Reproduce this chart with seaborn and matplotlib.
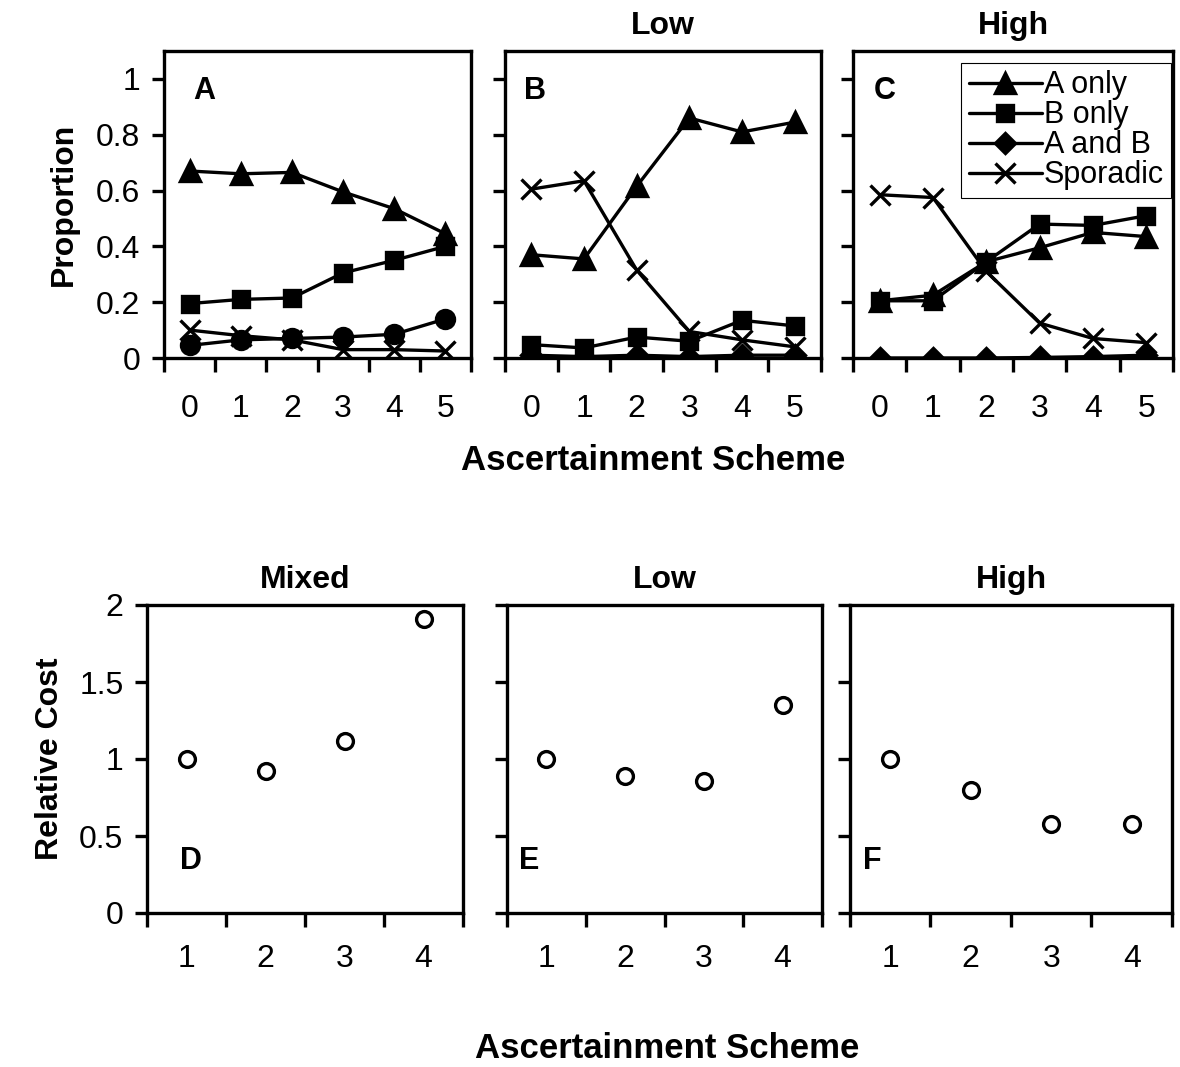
import numpy as np
import pandas as pd
import matplotlib
matplotlib.use('Agg')
import matplotlib.pyplot as plt
import seaborn as sns

sns.set_style('ticks')
plt.rcParams['font.family'] = ['Liberation Sans', 'DejaVu Sans']
plt.rcParams['text.color'] = 'black'
plt.rcParams['axes.labelcolor'] = 'black'
plt.rcParams['xtick.color'] = 'black'
plt.rcParams['ytick.color'] = 'black'

# data
schemes = [0, 1, 2, 3, 4, 5]
series_names = ['A only', 'B only', 'A and B', 'Sporadic']

# panel A (mixed)
a_only_A = [0.67, 0.66, 0.665, 0.595, 0.535, 0.445]
b_only_A = [0.195, 0.21, 0.215, 0.305, 0.35, 0.40]
ab_A = [0.045, 0.065, 0.07, 0.075, 0.085, 0.14]
spor_A = [0.10, 0.08, 0.065, 0.03, 0.03, 0.025]
# panel B (low)
a_only_B = [0.37, 0.355, 0.615, 0.86, 0.81, 0.845]
b_only_B = [0.048, 0.036, 0.075, 0.06, 0.135, 0.115]
ab_B = [0.01, 0.005, 0.01, 0.005, 0.01, 0.01]
spor_B = [0.605, 0.635, 0.315, 0.095, 0.065, 0.04]
# panel C (high)
a_only_C = [0.205, 0.225, 0.345, 0.395, 0.45, 0.435]
b_only_C = [0.205, 0.205, 0.345, 0.48, 0.475, 0.51]
ab_C = [0.0, 0.0, 0.0, 0.002, 0.005, 0.01]
spor_C = [0.585, 0.575, 0.31, 0.125, 0.07, 0.055]

cost_schemes = [1, 2, 3, 4]
cost_D = [1.0, 0.925, 1.12, 1.91]
cost_E = [1.0, 0.89, 0.86, 1.35]
cost_F = [1.0, 0.80, 0.58, 0.58]

top_titles = ['', 'Low', 'High']
bottom_titles = ['Mixed', 'Low', 'High']

W, H = 1180, 1067
fig = plt.figure(figsize=(W / 100, H / 100), dpi=100)


def box(l, r, t, b):
    return [l / W, 1 - b / H, (r - l) / W, (b - t) / H]


def style_ax(ax, ncat, first, xpad):
    for s in ax.spines.values():
        s.set_visible(True)
        s.set_linewidth(2.4)
        s.set_color('black')
    ax.set_xlim(first - 0.5, first + ncat - 0.5)
    ax.set_xticks(np.arange(first - 0.5, first + ncat, 1))
    ax.set_xticklabels([])
    ax.set_xticks(np.arange(first, first + ncat), minor=True)
    ax.set_xticklabels([str(v) for v in range(first, first + ncat)], minor=True, fontsize=23)
    ax.tick_params(axis='x', which='major', direction='out', length=10, width=2.4)
    ax.tick_params(axis='x', which='minor', length=0, pad=xpad)
    ax.tick_params(axis='y', direction='out', length=9, width=2.4, pad=8, labelsize=23)
    ax.set_xlabel('')
    ax.set_ylabel('')


# ---- top row ----
top_boxes = [(164, 471, 51, 358), (505, 821, 51, 358), (853, 1173, 51, 358)]
panel_data = [
    (a_only_A, b_only_A, ab_A, spor_A),
    (a_only_B, b_only_B, ab_B, spor_B),
    (a_only_C, b_only_C, ab_C, spor_C),
]
letters_top = ['A', 'B', 'C']
letter_x_top = [0.13, 0.095, 0.1]
top_axes = []
for i, (bx, vals) in enumerate(zip(top_boxes, panel_data)):
    ax = fig.add_axes(box(*bx))
    markers = ['^', 's', 'o' if i == 0 else 'D', 'x']
    msizes = [14, 12, 13 if i == 0 else 10, 14]
    for name, v, m, ms in zip(series_names, vals, markers, msizes):
        d = pd.DataFrame({'scheme': schemes, 'value': v})
        sns.lineplot(data=d, x='scheme', y='value', ax=ax, color='black', marker=m,
                     markersize=ms, markeredgecolor='black', markeredgewidth=2.4,
                     linewidth=2.4, label=name, legend=False)
    ax.set_ylim(0, 1.1)
    ax.set_yticks([0, 0.2, 0.4, 0.6, 0.8, 1])
    style_ax(ax, 6, 0, 26)
    if i == 0:
        ax.set_yticklabels(['0', '0.2', '0.4', '0.6', '0.8', '1'])
    else:
        ax.set_yticklabels([])
    ax.text(letter_x_top[i], 0.87, letters_top[i], transform=ax.transAxes, fontsize=22,
            fontweight='bold', va='center', ha='center')
    if top_titles[i]:
        ax.set_title(top_titles[i], fontsize=23, fontweight='bold', pad=12)
    top_axes.append(ax)

h, l = top_axes[2].get_legend_handles_labels()
leg = top_axes[2].legend(h, l, loc='upper right', bbox_to_anchor=(0.995, 0.962), fontsize=22,
                         frameon=True, fancybox=False, edgecolor='black', framealpha=1,
                         borderpad=0.25, labelspacing=0.0, handlelength=2.4,
                         handletextpad=0.05, borderaxespad=0.0)
leg.get_frame().set_linewidth(0.8)

top_axes[0].set_ylabel('Proportion', fontsize=23, fontweight='bold', labelpad=12)
fig.text(653 / W, 1 - 460 / H, 'Ascertainment Scheme', fontsize=25, fontweight='bold',
         ha='center', va='center')

# ---- bottom row ----
bottom_boxes = [(147, 463, 605, 913), (507, 822, 605, 913), (850, 1172, 605, 913)]
costs = [cost_D, cost_E, cost_F]
letters_bot = ['D', 'E', 'F']
bot_axes = []
for i, (bx, c) in enumerate(zip(bottom_boxes, costs)):
    ax = fig.add_axes(box(*bx))
    d = pd.DataFrame({'scheme': cost_schemes, 'cost': c})
    sns.scatterplot(data=d, x='scheme', y='cost', ax=ax, marker='o', s=130,
                    facecolor='white', edgecolor='black', linewidth=2.4, zorder=3)
    ax.set_ylim(0, 2)
    ax.set_yticks([0, 0.5, 1, 1.5, 2])
    style_ax(ax, 4, 1, 22)
    if i == 0:
        ax.set_yticklabels(['0', '0.5', '1', '1.5', '2'])
    else:
        ax.set_yticklabels([])
    ax.text(0.14 if i == 0 else 0.07, 0.17, letters_bot[i], transform=ax.transAxes,
            fontsize=22, fontweight='bold', va='center', ha='center')
    ax.set_title(bottom_titles[i], fontsize=23, fontweight='bold', pad=12)
    bot_axes.append(ax)

bot_axes[0].set_ylabel('Relative Cost', fontsize=23, fontweight='bold', labelpad=10)
fig.text(667 / W, 1 - 1048 / H, 'Ascertainment Scheme', fontsize=25, fontweight='bold',
         ha='center', va='center')

fig.savefig('out.png', dpi=100, facecolor='white')
